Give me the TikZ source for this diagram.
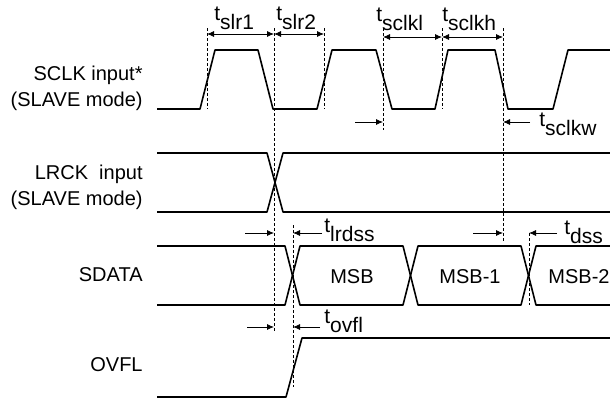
\documentclass[tikz,border=0pt]{standalone}
\usepackage{fontspec}
\setmainfont{Liberation Sans}
\usetikzlibrary{arrows.meta}
\newcommand{\tsub}[1]{t\raisebox{-4.5pt}{#1}}

\begin{document}
\begin{tikzpicture}[x=0.5pt,y=-0.5pt,font=\fontsize{10}{13}\selectfont]
\tikzstyle{sig}=[thick, line join=round]
\tikzstyle{guide}=[thin, dash pattern=on 1.5pt off 1pt]
\tikzstyle{dim}=[{Latex[length=3.5pt,width=3pt]}-{Latex[length=3.5pt,width=3pt]}, thin]
\tikzstyle{tickarrow}=[-{Latex[length=3.5pt,width=3pt]}, thin]
\tikzstyle{tlab}=[anchor=base west, inner sep=0pt, font=\fontsize{10.5}{13}\selectfont]
\tikzstyle{signame}=[anchor=east, align=right, inner sep=0pt]
\useasboundingbox (0,0) rectangle (610,402);
  % signal names
  \node[signame] (sclk) at (143,88) {SCLK input*\\(SLAVE mode)};
  \node[signame] (lrck) at (143,187) {LRCK\ \ input\\(SLAVE mode)};
  \node[signame] (sdata) at (143,275) {SDATA};
  \node[signame] (ovfl) at (143,365) {OVFL};
  % sclk
  \draw[sig] (157,109) -- (200,109) -- (215,50) -- (258,50) -- (273,109)
    -- (317,109) -- (332,50) -- (376,50) -- (392,109) -- (435,109)
    -- (448,50) -- (495,50) -- (508,109) -- (553,109) -- (568,50) -- (610,50);
  % lrck
  \draw[sig] (157,153) -- (267,153) -- (283,212) -- (610,212);
  \draw[sig] (157,212) -- (267,212) -- (283,153) -- (610,153);
  % sdata
  \draw[sig] (157,246) -- (285,246) -- (300,305) -- (403,305) -- (418,246)
    -- (521,246) -- (536,305) -- (610,305);
  \draw[sig] (157,305) -- (285,305) -- (300,246) -- (403,246) -- (418,305)
    -- (521,305) -- (536,246) -- (610,246);
  \node (msb) at (352,277) {MSB};
  \node (msb1) at (470,277) {MSB-1};
  \node (msb2) at (579,277) {MSB-2};
  % ovfl
  \draw[sig] (157,397) -- (286,397) -- (302,338) -- (610,338);
  % guide lines
  \coordinate (g1t) at (207,28);  \coordinate (g1b) at (207,109);
  \coordinate (g2t) at (274,28);  \coordinate (g2b) at (274,333);
  \coordinate (g3t) at (324,28);  \coordinate (g3b) at (324,109);
  \coordinate (g4t) at (383,28);  \coordinate (g4b) at (383,130);
  \coordinate (g5t) at (442,28);  \coordinate (g5b) at (442,109);
  \coordinate (g6t) at (503,28);  \coordinate (g6b) at (503,243);
  \coordinate (g7t) at (293,225); \coordinate (g7b) at (293,387);
  \coordinate (g8t) at (529,233); \coordinate (g8b) at (529,305);
  \foreach \g in {g1,g2,g3,g4,g5,g6,g7,g8}
    \draw[guide] (\g t) -- (\g b);
  % slr1, slr2
  \coordinate (slra) at (207,34);
  \coordinate (slrb) at (274,34);
  \coordinate (slrc) at (324,34);
  \node[tlab] (tslr1) at (214,20) {\tsub{slr1}};
  \node[tlab] (tslr2) at (276,20) {\tsub{slr2}};
  % sclkl, sclkh
  \coordinate (sclka) at (383,37);
  \coordinate (sclkb) at (442,37);
  \coordinate (sclkc) at (503,37);
  \node[tlab] (tsclkl) at (376,21) {\tsub{sclkl}};
  \node[tlab] (tsclkh) at (442,21) {\tsub{sclkh}};
  \path (slra) edge [dim] (slrb)
        (slrb) edge [dim] (slrc)
        (sclka) edge [dim] (sclkb)
        (sclkb) edge [dim] (sclkc);
  % sclkw
  \coordinate (wl) at (355,122);  \coordinate (wlt) at (383,122);
  \coordinate (wr) at (530,122);  \coordinate (wrt) at (503,122);
  \node[tlab] (tsclkw) at (539,126) {\tsub{sclkw}};
  % lrdss
  \coordinate (ll) at (245,233);  \coordinate (llt) at (274,233);
  \coordinate (lr) at (322,233);  \coordinate (lrt) at (293,233);
  \node[tlab] (tlrdss) at (324,232) {\tsub{lrdss}};
  % dss
  \coordinate (dl) at (473,233);  \coordinate (dlt) at (503,233);
  \coordinate (dr) at (557,233);  \coordinate (drt) at (529,233);
  \node[tlab] (tdss) at (564,234) {\tsub{dss}};
  % ovfl delay
  \coordinate (ol) at (247,327);  \coordinate (olt) at (274,327);
  \coordinate (or) at (320,327);  \coordinate (ort) at (293,327);
  \node[tlab] (tovfl) at (324,323) {\tsub{ovfl}};
  \path (wl) edge [tickarrow] (wlt)
        (wr) edge [tickarrow] (wrt)
        (ll) edge [tickarrow] (llt)
        (lr) edge [tickarrow] (lrt)
        (dl) edge [tickarrow] (dlt)
        (dr) edge [tickarrow] (drt)
        (ol) edge [tickarrow] (olt)
        (or) edge [tickarrow] (ort);
\end{tikzpicture}
\end{document}
